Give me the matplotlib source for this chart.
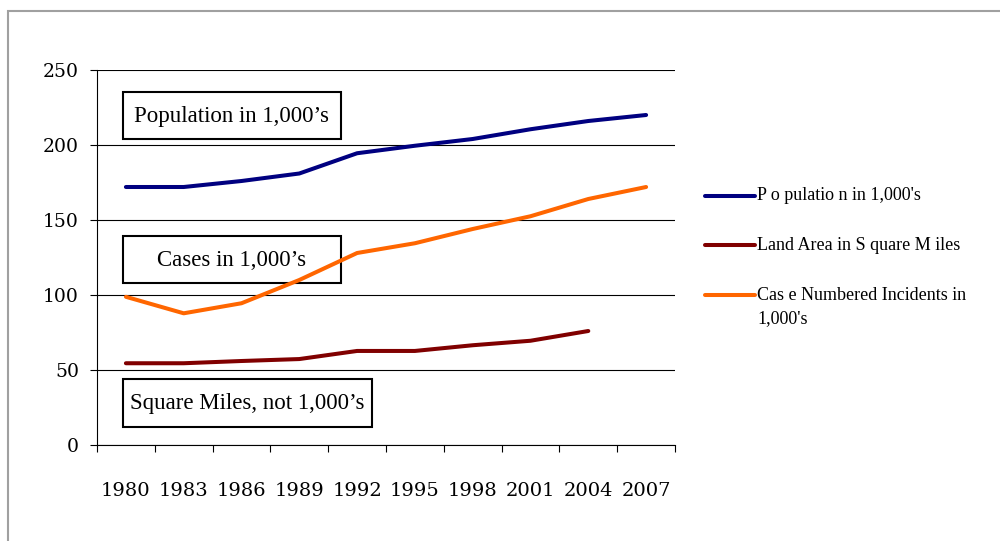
import matplotlib
matplotlib.use("Agg")
import matplotlib.pyplot as plt
import numpy as np
from matplotlib.patches import Rectangle
from matplotlib.lines import Line2D

# ── data ────────────────────────────────────────────────
years = ["1980", "1983", "1986", "1989", "1992", "1995", "1998", "2001", "2004", "2007"]
population = [172, 172, 176, 181, 194.5, 199.5, 204, 210.5, 216, 220]
land_area = [54.5, 54.5, 56, 57.3, 62.7, 62.7, 66.5, 69.5, 76, np.nan]
cases = [98.8, 87.8, 94.5, 110, 128, 134.5, 144, 152.5, 164, 172]

series_names = ["P o pulatio n in 1,000's", "Land Area in S quare M iles",
                "Cas e Numbered Incidents in\n1,000's"]
series_colors = ["#000080", "#800000", "#FF6600"]
box_labels = ["Population in 1,000\u2019s", "Cases in 1,000\u2019s",
              "Square Miles, not 1,000\u2019s"]

W, H = 1000, 541
fig = plt.figure(figsize=(W / 100, H / 100), dpi=100)


def fx(px):
    return px / W


def fy(py):
    return 1 - py / H


# outer chart frame (runs off the right and bottom edges)
fig.patches.append(Rectangle((fx(8), fy(560)), fx(1010), fy(11) - fy(560),
                             transform=fig.transFigure, fill=False,
                             edgecolor="#a0a0a0", linewidth=1.5))

ax = fig.add_axes([fx(97), fy(445), fx(675) - fx(97), fy(70) - fy(445)])
ax.patch.set_alpha(0)
x = np.arange(len(years))
for vals, col in zip([population, land_area, cases], series_colors):
    ax.plot(x, vals, color=col, linewidth=2.9, solid_capstyle="round")

ax.set_xlim(-0.5, len(years) - 0.5)
ax.set_ylim(0, 250)
ax.set_yticks(np.arange(0, 251, 50))
ax.yaxis.grid(True, color="black", linewidth=0.8)
ax.set_axisbelow(True)
for s in ["top", "right"]:
    ax.spines[s].set_visible(False)
ax.spines["left"].set_linewidth(0.8)
ax.spines["bottom"].set_linewidth(0.8)

ax.set_xticks(x)
ax.set_xticklabels(years, fontfamily="DejaVu Serif", fontsize=14)
ax.set_xticks(np.arange(-0.5, len(years)), minor=True)
ax.tick_params(axis="x", which="major", length=0, pad=27)
ax.tick_params(axis="x", which="minor", length=5, width=0.8, direction="out")
ax.tick_params(axis="y", length=5, width=0.8, pad=8)
for lab in ax.get_yticklabels():
    lab.set_fontfamily("DejaVu Serif")
    lab.set_fontsize(13.5)

# boxed annotations (behind the transparent axes so lines run over them)
boxes = [(123, 92, 341, 139), (123, 236, 341, 283), (123, 379, 372, 427)]
for (x0, y0, x1, y1), txt in zip(boxes, box_labels):
    fig.patches.append(Rectangle((fx(x0), fy(y1)), fx(x1) - fx(x0), fy(y0) - fy(y1),
                                 transform=fig.transFigure, fill=False,
                                 edgecolor="black", linewidth=1.5, zorder=-1))
    fig.text(fx((x0 + x1) / 2), fy((y0 + y1) / 2 + 1), txt,
             ha="center", va="center", fontfamily="Liberation Serif",
             fontsize=16.5, zorder=-1)

# legend drawn by hand so the handle lines up with the first text line
leg_y = [196, 245, 295]
for name, col, yy in zip(series_names, series_colors, leg_y):
    fig.lines.append(Line2D([fx(705), fx(755)], [fy(yy), fy(yy)],
                            transform=fig.transFigure, color=col,
                            linewidth=2.9, solid_capstyle="round"))
    for i, part in enumerate(name.split("\n")):
        fig.text(fx(757), fy(yy + 24 * i), part, ha="left", va="center",
                 fontfamily="Liberation Serif", fontsize=13)

fig.savefig("out.png", dpi=100)
